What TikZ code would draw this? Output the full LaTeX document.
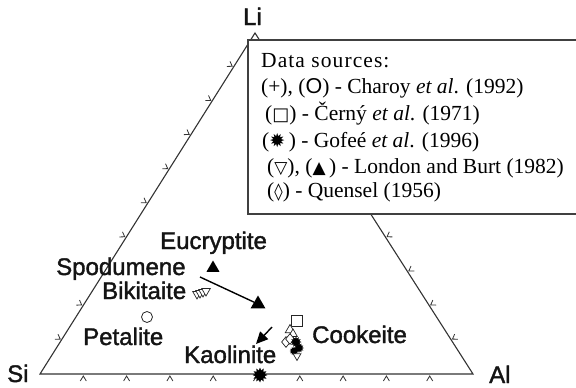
\documentclass[tikz,border=0pt]{standalone}
\usepackage{fontspec}
\setmainfont{Liberation Serif}
\newfontfamily\labfont[FakeBold=1.5]{Liberation Sans}
\newfontfamily\plainsans{Liberation Sans}
\newfontfamily\symf{DejaVu Sans}
\usetikzlibrary{shapes.geometric,arrows.meta,calc}
\newcommand{\mysym}[2][18]{{\symf\fontsize{#1}{16}\selectfont #2}}
\begin{document}
\begin{tikzpicture}[x=1pt,y=-1pt,
  edge/.style={draw=black!80,line width=1.1pt},
  tk/.style={draw=black!80,line width=0.8pt},
  lbl/.style={anchor=base west,inner sep=0,font=\labfont\fontsize{24}{28}\selectfont,text=black!92},
  leg/.style={anchor=base west,inner sep=0,font=\fontsize{21.5}{26}\selectfont},
  ftri/.style={regular polygon,regular polygon sides=3,fill=black,inner sep=0,minimum size=#1},
  otri/.style={regular polygon,regular polygon sides=3,draw=black!85,fill=white,line width=0.7pt,inner sep=0,minimum size=#1},
  dtri/.style={otri=#1,shape border rotate=180},
  burst/.style={star,star points=12,star point ratio=1.6,fill=black,inner sep=0,minimum size=#1},
  sqm/.style={rectangle,draw=black!85,fill=white,line width=0.7pt,inner sep=0,minimum size=#1},
  odia/.style={diamond,draw=black!85,fill=white,line width=0.7pt,inner sep=0,minimum width=9,minimum height=11},
  ocirc/.style={circle,draw=black!85,line width=0.8pt,inner sep=0,minimum size=#1}
]
\useasboundingbox (0,0) rectangle (576,388);
% corners
\coordinate (Si) at (40,374);
\coordinate (Al) at (473,374);
\coordinate (Li) at (255,33);
\draw[edge] (Si) -- (Al) -- (Li) -- cycle;
% ticks bottom
\foreach \k in {1,...,9}{
  \path ($(Si)!\k/10!(Al)$) coordinate (p);
  \draw[tk] ($(p)+(-3,7)$) -- ($(p)+(0,2)$) -- ($(p)+(3,7)$);
}
% ticks left
\foreach \k in {1,2,4,5,6,7,8,9}{
  \path ($(Si)!\k/10!(Li)$) coordinate (p);
  \draw[tk] ($(p)+(-3.48,-5.74)$) -- ($(p)+(-1.27,-0.8)$) -- ($(p)+(-6.68,-0.66)$);
}
% ticks right
\foreach \k in {1,...,4}{
  \path ($(Al)!\k/10!(Li)$) coordinate (p);
  \draw[tk] ($(p)+(3.44,-5.76)$) -- ($(p)+(1.26,-0.81)$) -- ($(p)+(6.68,-0.70)$);
}
% legend box
\draw[draw=black!75,line width=1.2pt,fill=white] (248,40) rectangle (590,214);
\node[leg] (l1) at (261,67) {\addfontfeature{LetterSpace=5}Data sources:};
\node[leg] (l2) at (261,93) {(+), ({\plainsans O}) - Charoy \textit{et al}. (1992)};
\node[leg] (l3) at (265,120) {(\mysym{□}) - Černý \textit{et al}. (1971)};
\node[leg] (l4) at (262,147) {(\mysym[19]{✹}\,) - Gofeé \textit{et al}. (1996)};
\node[leg] (l5) at (267,173) {(\mysym[17]{▽}), (\mysym[17]{▲}\,) - London and Burt (1982)};
\node[leg] (l6) at (267,197) {(\mysym[17]{◊}) - Quensel (1956)};
% corner labels
\node[lbl] (tLi) at (243,25) {Li};
\node[lbl] (tSi) at (7,382) {Si};
\node[lbl] (tAl) at (489,383) {Al};
% mineral labels
\node[lbl] (eu) at (160,249) {Eucryptite};
\node[lbl] (sp) at (56,275) {Spodumene};
\node[lbl] (bk) at (102,299) {Bikitaite};
\node[lbl] (pt) at (83,345) {Petalite};
\node[lbl] (ka) at (184,363) {Kaolinite};
\node[lbl] (ck) at (312,343) {Cookeite};
% markers
\node[ftri=15] (m1) at (213,268) {};
\node[ftri=17] (m2) at (258,304) {};
\foreach \p/\q [count=\i] in {197/294,200/293,203/292,206/291}{
  \node[dtri=10] (bk\i) at (\p,\q) {};
}
\node[ocirc=11] (m3) at (147,317) {};
\node[burst=15] (m4) at (260,375) {};
% cookeite cluster
\node[sqm=11] (c1) at (297,321) {};
\node[otri=11] (c2) at (290,330) {};
\node[otri=10] (c3) at (293,334) {};
\node[odia] (c4) at (286,342) {};
\node[odia] (c5) at (290,339) {};
\node[burst=11] (c6) at (296,342) {};
\node[burst=10] (c7) at (299,348) {};
\node[burst=9] (c8) at (294,351) {};
\node[dtri=9] (c9) at (297,356) {};
% arrows
\coordinate (sa) at (200,277);
\draw[line width=1.4pt] (sa) -- (m2);
\coordinate (ka1) at (272,327);
\coordinate (ka2) at (256,344);
\draw[line width=1.4pt,-{Triangle[length=12pt,width=11pt]}] (ka1) -- (ka2);
\end{tikzpicture}
\end{document}
